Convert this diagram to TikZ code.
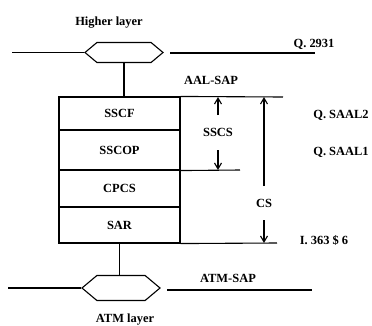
\documentclass[tikz,border=0pt]{standalone}
\usepackage{fontspec}
\setmainfont{Liberation Serif}
\usepackage{tikz}
\usetikzlibrary{arrows.meta,shapes.symbols}

\begin{document}
\begin{tikzpicture}[x=1bp,y=-1bp,>={Straight Barb[length=6bp,width=7bp]},line width=1.1bp,
  every node/.style={font=\fontsize{12.5}{14}\selectfont\bfseries},
  layerbox/.style={draw,rectangle,minimum width=121bp,inner sep=0pt},
  sap/.style={draw,signal,signal to=west and east,signal pointer angle=80,minimum width=78bp,inner sep=0pt}]
\useasboundingbox (0,0) rectangle (372,326);
\node (HL) at (109,23) {Higher layer};
\node[sap,minimum height=20bp] (HT) at (124,52.5) {};
\node[sap,minimum height=25bp] (HB) at (121,288) {};
\node[layerbox,minimum height=33bp] (SSCF) at (119.5,113.5) {SSCF};
\node[layerbox,minimum height=40bp] (SSCOP) at (119.5,150) {SSCOP};
\node[layerbox,minimum height=37bp] (CPCS) at (119.5,188.5) {CPCS};
\node[layerbox,minimum height=36bp] (SAR) at (119.5,225) {SAR};
\node (AAL) at (211,80) {AAL-SAP};
\node (ATM) at (228,278) {ATM-SAP};
\node (AL) at (125,320) {ATM layer};
\node (Q2931) at (314,44) {Q. 2931};
\node (QS2) at (341,115) {Q. SAAL2};
\node (QS1) at (341,152) {Q. SAAL1};
\node (I363) at (324,240) {I. 363 \$ 6};
\node (SSCS) at (218,132) {SSCS};
\node (CS) at (264,203) {CS};
\coordinate (TL) at (12,52.5);
\coordinate (TR1) at (170,53);
\coordinate (TR2) at (315,53);
\coordinate (BL) at (8,288);
\coordinate (BR1) at (167,290);
\coordinate (BR2) at (312,290);
\coordinate (AALend) at (283,97);
\coordinate (S1end) at (240,170);
\coordinate (SARend) at (277,243);
\coordinate (SSCSa) at (218,115);
\coordinate (SSCSb) at (218,150);
\coordinate (CSa) at (264,186);
\coordinate (CSb) at (264,220);
\draw (TL) -- (HT.west);
\draw (TR1) -- (TR2);
\draw (BL) -- (HB.west);
\draw (BR1) -- (BR2);
\draw (HT.south) -- (HT.south |- SSCF.north);
\draw (SAR.south) -- (SAR.south |- HB.north);
\draw (SSCF.north east) -- (AALend);
\draw (SSCOP.south east) -- (S1end);
\draw (SAR.south east) -- (SARend);
\draw[->] (SSCSa) -- (SSCSa |- AALend);
\draw[->] (SSCSb) -- (SSCSb |- S1end);
\draw[->] (CSa) -- (CSa |- AALend);
\draw[->] (CSb) -- (CSb |- SARend);
\end{tikzpicture}
\end{document}
